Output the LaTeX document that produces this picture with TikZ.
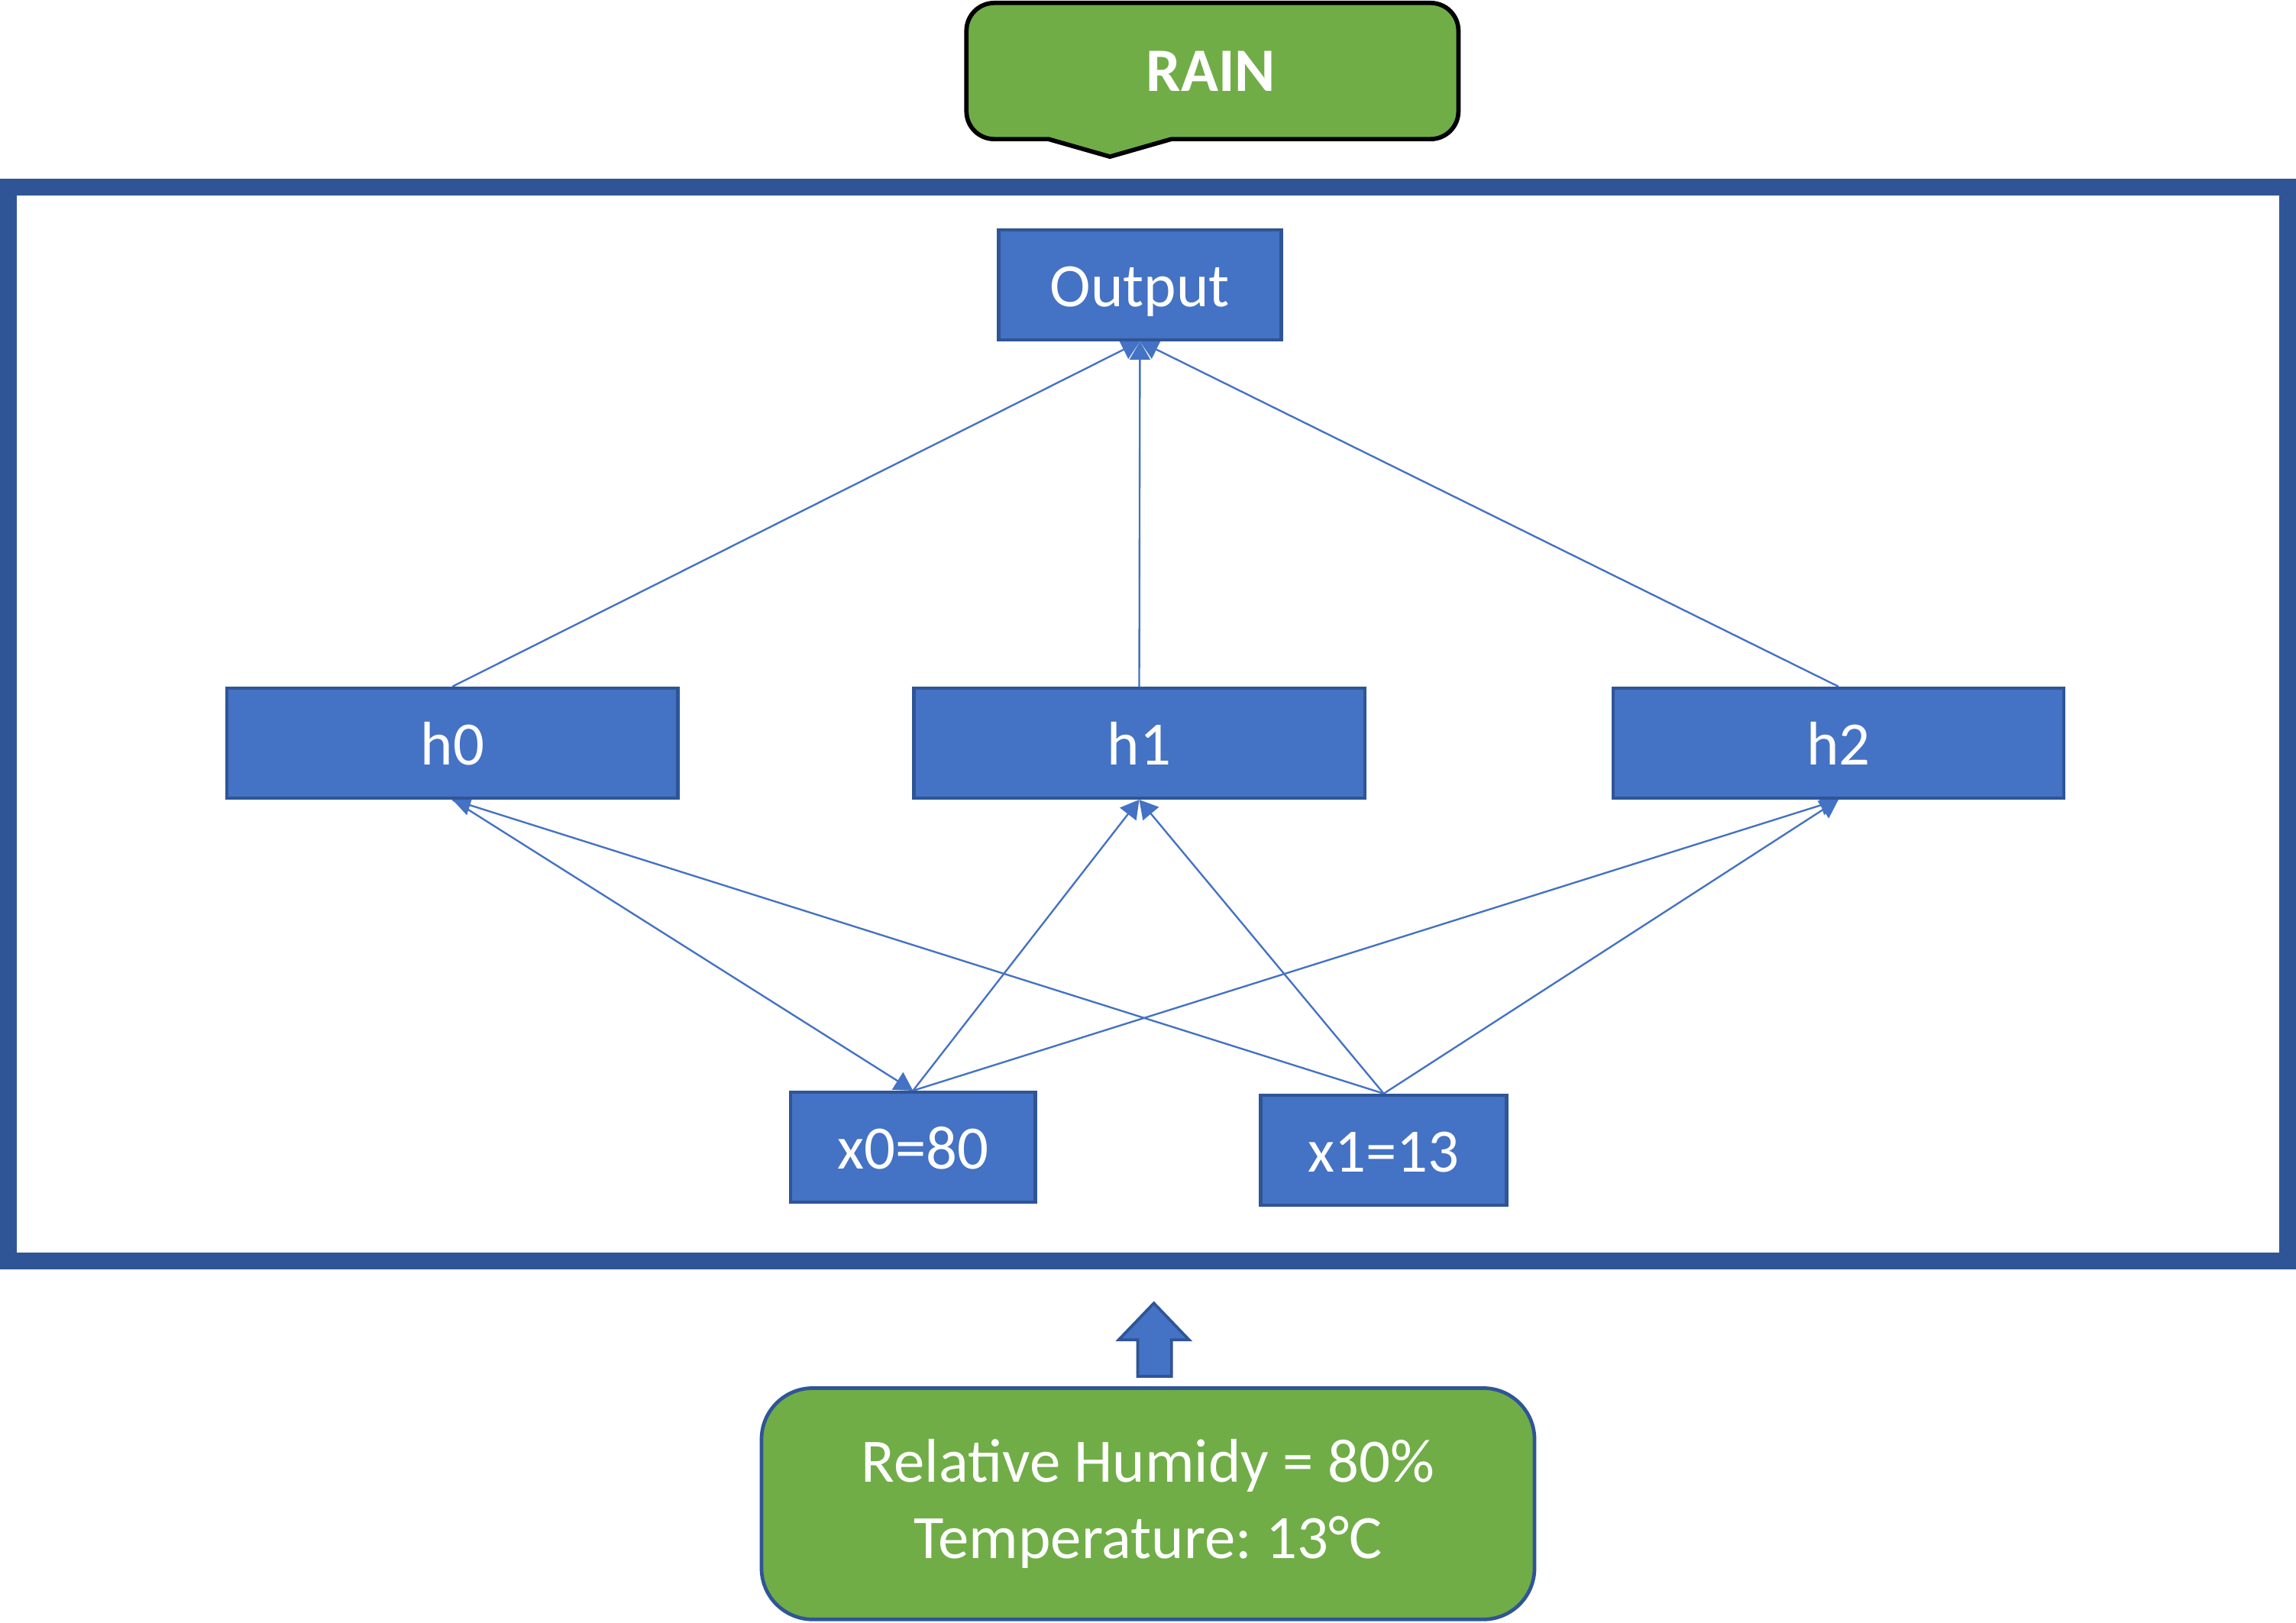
\documentclass[tikz,border=0pt]{standalone}
\usepackage{fontspec}
\setmainfont{Carlito}
\usetikzlibrary{arrows.meta,backgrounds}
\definecolor{unitblue}{HTML}{4472C4}
\definecolor{lineblue}{HTML}{2F5597}
\definecolor{raingreen}{HTML}{70AD47}
\frenchspacing

\begin{document}
\begin{tikzpicture}[x=0.02cm,y=-0.02cm,
  >={Triangle[length=0.25cm,width=0.28cm]},
  neuron/.style={rectangle,draw=lineblue,line width=1.3pt,fill=unitblue,text=white,
    minimum height=1.5cm,inner sep=0pt,text height=0.75cm,text depth=0.15cm,
    font=\fontsize{24}{29}\selectfont},
  link/.style={->,color=unitblue,line width=0.7pt},
  inputbox/.style={rectangle,rounded corners=0.7cm,draw=lineblue,line width=1.4pt,
    fill=raingreen,text=white,minimum width=10.56cm,minimum height=3.16cm,
    align=center,font=\fontsize{24}{29.5}\selectfont},
  rainbox/.style={draw=black,line width=1.7pt,fill=raingreen}]

\useasboundingbox (0,0) rectangle (1568,1108.4);

% network frame
\draw[lineblue,line width=0.23cm] (5.75,128) rectangle (1562.25,861);

\node[neuron,minimum width=3.86cm](out) at (778.5,194.5){Output};
\node[neuron,minimum width=6.16cm](h0) at (309,507.5){h0};
\node[neuron,minimum width=6.16cm](h1) at (778,507.5){h1};
\node[neuron,minimum width=6.16cm](h2) at (1255.5,507.5){h2};
\node[neuron,minimum width=3.34cm](x0) at (623.5,783.5){x0=80};
\node[neuron,minimum width=3.36cm](x1) at (945,785.5){x1=13};

\begin{scope}[on background layer]
\path[link](h0.north) edge (out.south)
	 (h1.north) edge (out.south)
	 (h2.north) edge (out.south)
	 (h0.south) edge (x0.north)
	 (x0.north) edge (h1.south)
	 (x0.north) edge (h2.south)
	 (x1.north) edge (h0.south)
	 (x1.north) edge (h1.south)
	 (x1.north) edge (h2.south);
\end{scope}

% result callout
\draw[rainbox] (900,95) [rounded corners=0.38cm] -- (996,95) -- (996,2) -- (660,2) -- (660,95)
	 [sharp corners] -- (716,95) -- (758,107) -- (800,95) -- cycle;
\node[text=white,inner sep=0pt,font=\bfseries\fontsize{24}{29}\selectfont](rain) at (827,48.5){RAIN};

% input
\node[inputbox](inp) at (784,1027){Relative Humidy = 80\%\\Temperature: 13°C};
\draw[lineblue,fill=unitblue,line width=1.1pt] (777,940) -- (777,915) -- (764,915) -- (788,890)
	 -- (812,915) -- (800,915) -- (800,940) -- cycle;

\end{tikzpicture}
\end{document}
